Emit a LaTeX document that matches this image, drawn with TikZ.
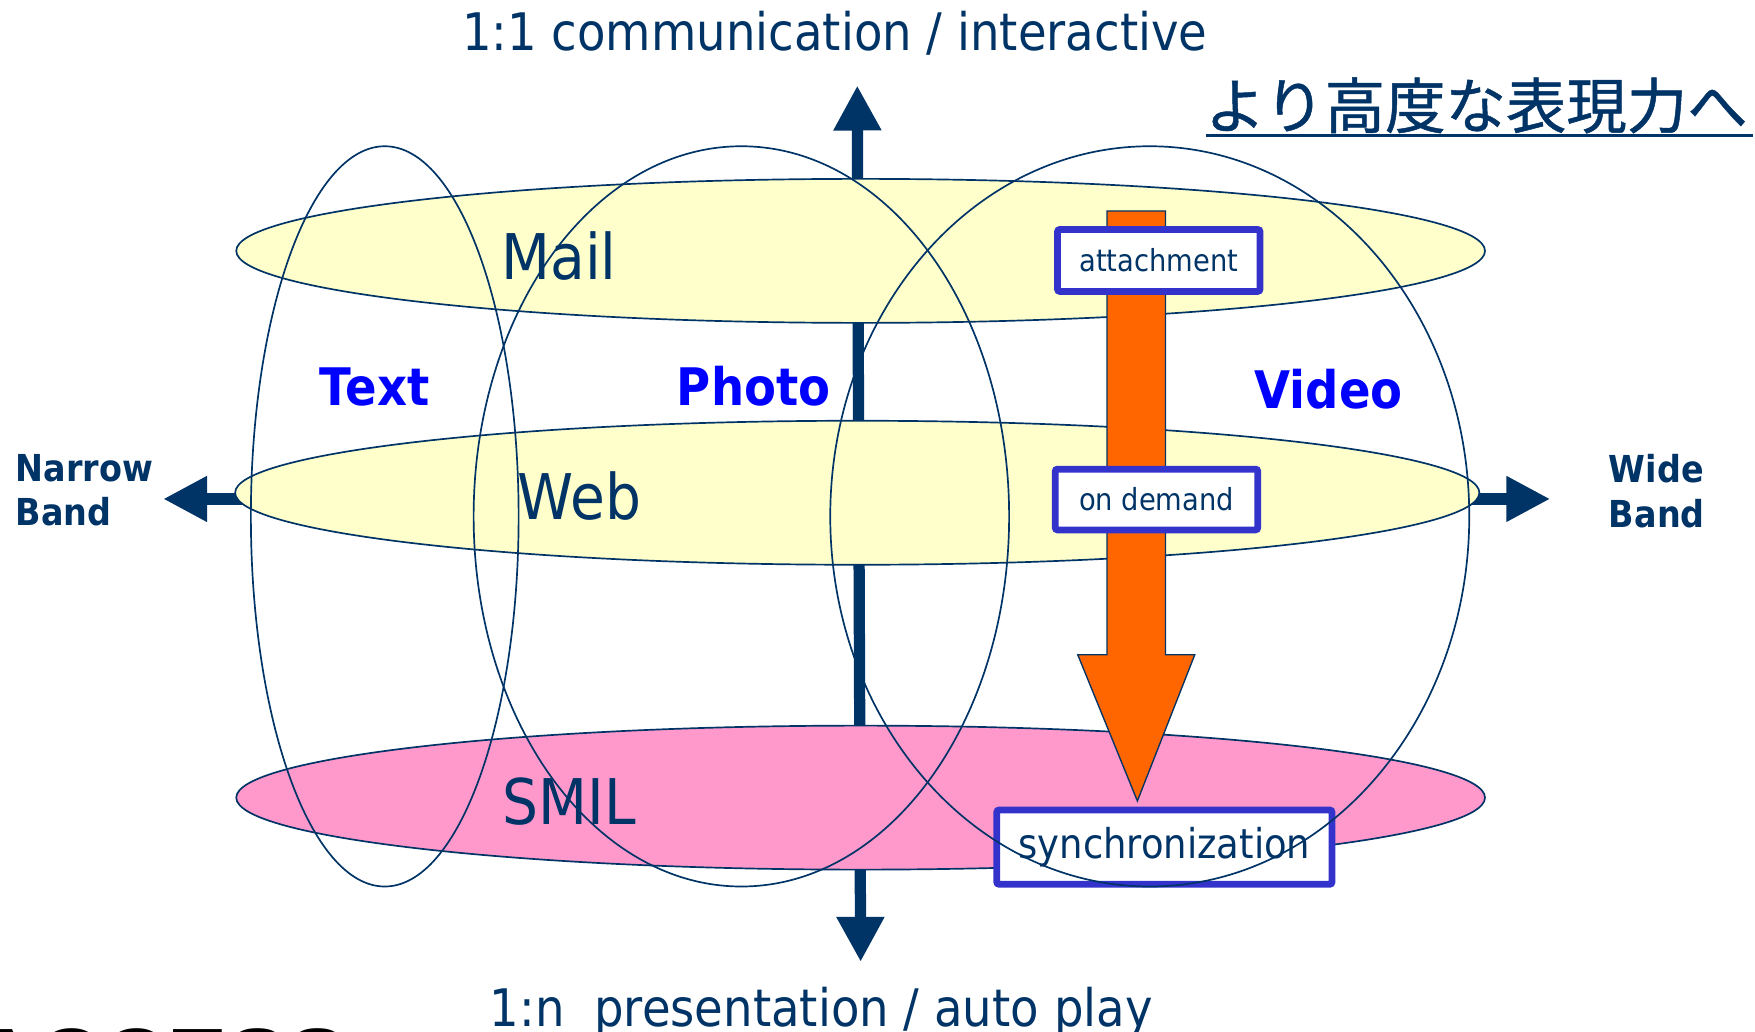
\documentclass[tikz,border=0pt]{standalone}
\usepackage{fontspec}
\setmainfont{DejaVu Sans}[FakeStretch=0.9]
\newfontfamily\jpfont{Noto Sans CJK JP}[FakeBold=0.8]
\newfontfamily\logofont{Liberation Sans}
\usetikzlibrary{arrows.meta}
\definecolor{navy}{HTML}{003366}
\definecolor{lyellow}{HTML}{FFFFCC}
\definecolor{lpink}{HTML}{FF99CC}
\definecolor{orng}{HTML}{FF6600}
\definecolor{boxblue}{HTML}{3333CC}
\definecolor{tblue}{HTML}{0000FF}
\newcommand{\fs}[1]{\fontsize{#1}{#1}\selectfont}
\begin{document}
\begin{tikzpicture}[x=1pt,y=-1pt,
  band/.style={draw=navy, line width=1.5pt},
  axisv/.style={draw=navy, line width=10pt, {Triangle[width=40pt,length=40pt]}-{Triangle[width=40pt,length=40pt]}},
  axish/.style={draw=navy, line width=11pt, {Triangle[width=38pt,length=39pt]}-{Triangle[width=38pt,length=39pt]}},
  bigbox/.style={draw=boxblue, line width=6pt, fill=white, rounded corners=2pt, inner sep=0pt, text=navy},
  lbl/.style={inner sep=0pt, text=navy, anchor=base},
  media/.style={inner sep=0pt, text=tblue, anchor=base, font=\bfseries\fs{46}},
  bandlbl/.style={inner sep=0pt, text=navy, anchor=base west, font=\bfseries\fs{33}},
  orangearrow/.style={draw=navy, line width=1.2pt, fill=orng, line join=miter}
]
\useasboundingbox (0,0) rectangle (1560,917.3);
\clip (0,0) rectangle (1560,917.3);

% axes
\coordinate (vtop) at (762,76);
\coordinate (vbot) at (765,855);
\coordinate (hleft) at (145,443.5);
\coordinate (hright) at (1378,443.5);
\draw[axisv] (vbot) -- (vtop);
\draw[axish] (hleft) -- (hright);

% horizontal bands
\draw[band, fill=lyellow] (765,223) ellipse [x radius=555pt, y radius=64pt];
\draw[band, fill=lyellow] (762,438) ellipse [x radius=553pt, y radius=64pt];
\draw[band, fill=lpink] (765,709) ellipse [x radius=555pt, y radius=64pt];

% orange arrow
\draw[orangearrow] (984,187.5) -- (1036,187.5) -- (1036,582) -- (1062,582) -- (1011,712) -- (958,582) -- (984,582) -- cycle;

% boxes
\node[bigbox, minimum width=180pt, minimum height=55pt, font=\fs{27}] (attach) at (1030,231.5) {attachment};
\node[bigbox, minimum width=180pt, minimum height=54pt, font=\fs{27}] (ondemand) at (1028,444) {on demand};
\node[bigbox, minimum width=298pt, minimum height=66pt, font=\fs{36.5}] (sync) at (1035,753) {synchronization};

% vertical media ellipses
\draw[band] (342,459) ellipse [x radius=119pt, y radius=329pt];
\draw[band] (659,459) ellipse [x radius=238pt, y radius=329pt];
\draw[band] (1022,459) ellipse [x radius=284pt, y radius=329pt];

% band labels
\node[lbl, font=\fs{56}] (mail) at (497,248) {Mail};
\node[lbl, font=\fs{56}] (web) at (515,462) {Web};
\node[lbl, font=\fs{56}] (smil) at (506,733) {SMIL};

% media labels
\node[media] (text) at (333,360) {Text};
\node[media] (photo) at (670,360) {Photo};
\node[media] (video) at (1181,363) {Video};

% axis labels
\node[lbl, font=\fs{46}] (top) at (742,45) {1:1 communication / interactive};
\node[lbl, font=\fs{46}] (bottom) at (730,912) {1:n\ \ presentation / auto play};
\node[bandlbl] (narrow1) at (14,428) {Narrow};
\node[bandlbl] (narrow2) at (14,467) {Band};
\node[bandlbl] (wide1) at (1430,429) {Wide};
\node[bandlbl] (wide2) at (1430,469) {Band};

% japanese heading
\node[inner sep=0pt, anchor=base west, text=navy, font=\jpfont\fs{53.7}] (jp) at (1071,114) {より高度な表現力へ};
\coordinate (ulA) at (1072,120.5);
\coordinate (ulB) at (1558,120.5);
\draw[navy, line width=3pt] (ulA) -- (ulB);

% cut-off logo
\begin{scope}
\clip (0,880) rectangle (308,917.3);
\node[inner sep=0pt, anchor=base west, text=black, font=\logofont\bfseries\fs{80}] (logo) at (-25,970) {ACCESS};
\end{scope}
\end{tikzpicture}
\end{document}
